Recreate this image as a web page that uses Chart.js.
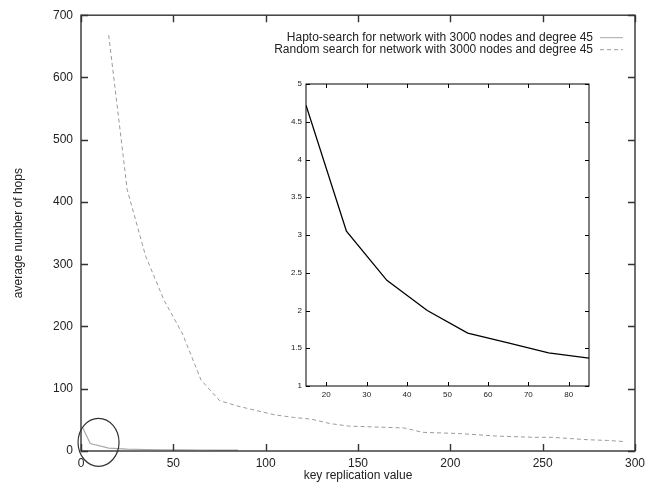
<!DOCTYPE html>
<html lang="en">
<head>
  <meta charset="UTF-8">
  <title>Hapto-search vs random search</title>
  <script src="https://cdn.jsdelivr.net/npm/chart.js"></script>
  <style>
    html, body { margin: 0; padding: 0; background: #fff; }
    #wrap { position: relative; width: 665px; height: 487px; }
    #mainChart { position: absolute; left: 0; top: 0; }
    #insetChart { position: absolute; left: 276px; top: 74px; }
  </style>
</head>
<body>
  <div id="wrap">
    <canvas id="mainChart" width="665" height="487"></canvas>
    <canvas id="insetChart" width="320" height="332"></canvas>
  </div>

  <script>
    // key replication values and average hops
    const randomX = [15, 25, 35, 45, 55, 65, 75, 85, 95, 105, 115, 125, 135, 145, 155,
                     165, 175, 185, 195, 205, 215, 225, 235, 245, 255, 265, 275, 285, 295];
    const randomHops = [668, 420, 313, 242, 188, 114, 81, 72, 65, 58, 54, 51, 44, 40, 39,
                        38, 37, 30, 29, 28, 26, 24, 23, 22, 22, 20, 18, 17, 15];
    const haptoX = [1, 5, 15, 25, 35, 45, 55, 65, 75, 85];
    const haptoHops = [37, 12, 4.72, 3.05, 2.4, 2.0, 1.7, 1.57, 1.44, 1.37];

    const labels = [
      'Hapto-search for network with 3000 nodes and degree 45',
      'Random search for network with 3000 nodes and degree 45'
    ];

    const mainXTicks = [0, 50, 100, 150, 200, 250, 300];
    const mainYTicks = [0, 100, 200, 300, 400, 500, 600, 700];
    const insetXTicks = [20, 30, 40, 50, 60, 70, 80];
    const insetYTicks = [1, 1.5, 2, 2.5, 3, 3.5, 4, 4.5, 5];

    // the circled region near the origin (data units)
    const circleAt = { x: 9.5, y: 14 };

    const pts = (xs, ys) => xs.map((x, i) => ({ x: x, y: ys[i] }));

    // gnuplot style frame: box + inward ticks on all four sides
    const boxTicks = {
      id: 'boxTicks',
      afterDraw(chart, args, opts) {
        const { ctx, chartArea: a, scales: { x, y } } = chart;
        ctx.save();
        ctx.strokeStyle = opts.color;
        ctx.lineWidth = opts.width;
        ctx.strokeRect(a.left, a.top, a.right - a.left, a.bottom - a.top);
        ctx.beginPath();
        opts.xTicks.forEach(v => {
          const px = Math.round(x.getPixelForValue(v)) + 0.5;
          ctx.moveTo(px, a.bottom); ctx.lineTo(px, a.bottom - opts.len);
          ctx.moveTo(px, a.top); ctx.lineTo(px, a.top + opts.len);
        });
        opts.yTicks.forEach(v => {
          const py = Math.round(y.getPixelForValue(v)) + 0.5;
          ctx.moveTo(a.left, py); ctx.lineTo(a.left + opts.len, py);
          ctx.moveTo(a.right, py); ctx.lineTo(a.right - opts.len, py);
        });
        ctx.stroke();
        ctx.restore();
      }
    };

    // legend on the right, line sample after the text
    const rightLegend = {
      id: 'rightLegend',
      afterDraw(chart) {
        const { ctx, chartArea: a } = chart;
        ctx.save();
        ctx.font = '12px "Liberation Sans", Arial, sans-serif';
        ctx.textAlign = 'right';
        ctx.textBaseline = 'middle';
        chart.data.datasets.forEach((ds, i) => {
          const ty = a.top + 22 + i * 12;
          ctx.fillStyle = '#222';
          ctx.fillText(ds.label, a.right - 42, ty);
          ctx.strokeStyle = ds.borderColor;
          ctx.lineWidth = 1;
          ctx.setLineDash(ds.borderDash || []);
          ctx.beginPath();
          ctx.moveTo(a.right - 35, ty + 0.5);
          ctx.lineTo(a.right - 12, ty + 0.5);
          ctx.stroke();
        });
        ctx.restore();
      }
    };

    const circleMark = {
      id: 'circleMark',
      afterDraw(chart) {
        const { ctx, scales: { x, y } } = chart;
        ctx.save();
        ctx.strokeStyle = '#333';
        ctx.lineWidth = 1.2;
        ctx.beginPath();
        ctx.ellipse(x.getPixelForValue(circleAt.x), y.getPixelForValue(circleAt.y), 20.5, 24, 0, 0, Math.PI * 2);
        ctx.stroke();
        ctx.restore();
      }
    };

    const mainFont = { family: '"Liberation Sans", Arial, sans-serif', size: 12 };

    new Chart(document.getElementById('mainChart'), {
      type: 'line',
      data: {
        datasets: [{
          label: labels[0],
          data: pts(haptoX, haptoHops),
          borderColor: '#a8a8a8',
          borderWidth: 1.2,
          pointRadius: 0,
          tension: 0
        }, {
          label: labels[1],
          data: pts(randomX, randomHops),
          borderColor: '#9a9a9a',
          borderWidth: 1,
          borderDash: [4, 3],
          pointRadius: 0,
          tension: 0
        }]
      },
      options: {
        responsive: false,
        animation: false,
        layout: { padding: { top: 13, right: 30, bottom: 0, left: 0 } },
        plugins: {
          legend: { display: false },
          tooltip: { enabled: false },
          boxTicks: { color: '#333', width: 1.4, len: 7, xTicks: mainXTicks, yTicks: mainYTicks }
        },
        scales: {
          x: {
            type: 'linear', min: 0, max: 300,
            grid: { display: false, drawTicks: false },
            border: { display: false },
            afterBuildTicks: s => { s.ticks = mainXTicks.map(v => ({ value: v })); },
            afterFit: s => { s.height = 36; },
            ticks: { padding: 5, color: '#222', font: mainFont, maxRotation: 0 },
            title: { display: true, text: 'key replication value', color: '#222', font: mainFont, padding: { top: 0, bottom: 4 } }
          },
          y: {
            type: 'linear', min: 0, max: 700,
            grid: { display: false, drawTicks: false },
            border: { display: false },
            afterBuildTicks: s => { s.ticks = mainYTicks.map(v => ({ value: v })); },
            afterFit: s => { s.width = 81; },
            ticks: { padding: 8, color: '#222', font: mainFont },
            title: { display: true, text: 'average number of hops', color: '#222', font: mainFont, padding: { top: 11, bottom: 0 } }
          }
        }
      },
      plugins: [boxTicks, rightLegend, circleMark]
    });

    // inset: hapto-search only, zoomed
    const insetFont = { family: '"Liberation Sans Narrow", "Liberation Sans", Arial, sans-serif', size: 8 };
    const insetIdx = haptoX.map((x, i) => i).filter(i => haptoX[i] >= 15);

    new Chart(document.getElementById('insetChart'), {
      type: 'line',
      data: {
        datasets: [{
          label: labels[0],
          data: insetIdx.map(i => ({ x: haptoX[i], y: haptoHops[i] })),
          borderColor: '#000',
          borderWidth: 1.3,
          pointRadius: 0,
          tension: 0
        }]
      },
      options: {
        responsive: false,
        animation: false,
        layout: { padding: { top: 10, right: 7, bottom: 0, left: 0 } },
        plugins: {
          legend: { display: false },
          tooltip: { enabled: false },
          boxTicks: { color: '#000', width: 1, len: 4, xTicks: insetXTicks, yTicks: insetYTicks }
        },
        scales: {
          x: {
            type: 'linear', min: 15, max: 85,
            grid: { display: false, drawTicks: false },
            border: { display: false },
            afterBuildTicks: s => { s.ticks = insetXTicks.map(v => ({ value: v })); },
            afterFit: s => { s.height = 20; },
            ticks: { padding: 4, color: '#222', font: insetFont, maxRotation: 0 }
          },
          y: {
            type: 'linear', min: 1, max: 5,
            grid: { display: false, drawTicks: false },
            border: { display: false },
            afterBuildTicks: s => { s.ticks = insetYTicks.map(v => ({ value: v })); },
            afterFit: s => { s.width = 30; },
            ticks: { padding: 4, color: '#222', font: insetFont, callback: v => String(v) }
          }
        }
      },
      plugins: [boxTicks]
    });
  </script>
</body>
</html>
